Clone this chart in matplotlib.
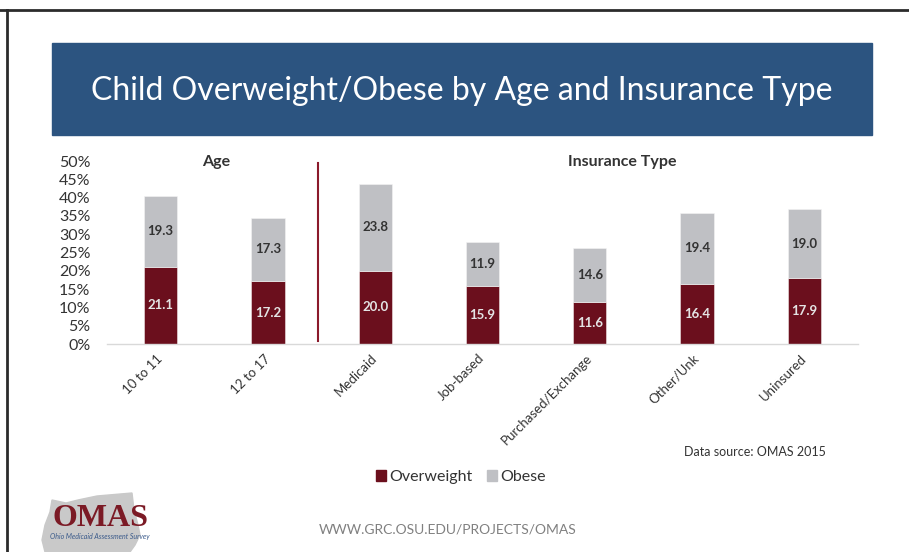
import matplotlib
matplotlib.use("Agg")
import matplotlib.pyplot as plt
from matplotlib.patches import Rectangle, Polygon
from matplotlib.lines import Line2D
from matplotlib.transforms import Affine2D
import numpy as np

categories = ["10 to 11", "12 to 17", "Medicaid", "Job-based",
              "Purchased/Exchange", "Other/Unk", "Uninsured"]
overweight = [21.1, 17.2, 20.0, 15.9, 11.6, 16.4, 17.9]
obese = [19.3, 17.3, 23.8, 11.9, 14.6, 19.4, 19.0]
yticks = [0, 5, 10, 15, 20, 25, 30, 35, 40, 45, 50]

c_over = "#6b0f1d"
c_obese = "#bfc0c4"
c_text = "#333333"

plt.rcParams["font.family"] = ["Lato", "DejaVu Sans"]

W, H = 909, 552
fig = plt.figure(figsize=(W / 100, H / 100), dpi=100)
# pixel coordinates of the slide (y down)
px = Affine2D().scale(1 / W, -1 / H).translate(0, 1) + fig.transFigure

# slide frame
fig.add_artist(Line2D([0, W], [10, 10], color="#2b2b2b", lw=2, transform=px))
fig.add_artist(Line2D([6.5, 6.5], [10, H], color="#2b2b2b", lw=2, transform=px))

# title banner
fig.add_artist(Rectangle((52, 43), 820, 92, color="#2c5480", transform=px))
fig.text(462, 91, "Child Overweight/Obese by Age and Insurance Type",
         transform=px, color="white", fontsize=23, ha="center", va="center")

ax = fig.add_axes([107 / W, 1 - 344 / H, 751 / W, 183 / H])
x = np.arange(len(categories))
bw = 0.31
ax.bar(x, overweight, bw, color=c_over, edgecolor="#f0e8e8", linewidth=0.4, label="Overweight")
ax.bar(x, obese, bw, bottom=overweight, color=c_obese, edgecolor="#f4f4f4",
       linewidth=0.4, label="Obese")

for i in range(len(categories)):
    ax.text(x[i], overweight[i] / 2, f"{overweight[i]:.1f}", ha="center", va="center",
            color="#e4e4e4", fontsize=9.5, fontweight="bold")
    ax.text(x[i], overweight[i] + obese[i] / 2, f"{obese[i]:.1f}", ha="center", va="center",
            color=c_text, fontsize=9.5, fontweight="bold")

ax.set_xlim(-0.5, len(categories) - 0.5)
ax.set_ylim(0, 50)
ax.set_yticks(yticks)
ax.set_yticklabels([f"{v}%" for v in yticks], fontsize=11.5, color=c_text)
ax.set_xticks(x)
ax.set_xticklabels(categories, rotation=45, ha="right", va="center",
                   rotation_mode="anchor", fontsize=9.5, color=c_text)
ax.tick_params(axis="y", length=0, pad=12)
ax.tick_params(axis="x", length=0, pad=9)
for s in ["top", "right", "left"]:
    ax.spines[s].set_visible(False)
ax.spines["bottom"].set_color("#d9d9d9")
ax.spines["bottom"].set_linewidth(1)

# group divider and headers
ax.plot([1.47, 1.47], [0.8, 49.5], color="#8b1a2b", lw=1.5, clip_on=False)
ax.text(0.52, 49.7, "Age", ha="center", va="center", fontsize=11.5,
        fontweight="bold", color=c_text, clip_on=False)
ax.text(4.3, 49.7, "Insurance Type", ha="center", va="center", fontsize=11.5,
        fontweight="bold", color=c_text, clip_on=False)

fig.text(826, 452, "Data source: OMAS 2015", transform=px, ha="right", va="center",
         fontsize=9, color=c_text)

handles = [Rectangle((0, 0), 1, 1, color=c_over), Rectangle((0, 0), 1, 1, color=c_obese)]
fig.legend(handles, ["Overweight", "Obese"], loc="center", bbox_to_anchor=(461 / W, 1 - 477 / H),
           ncol=2, frameon=False, fontsize=11.5, handlelength=0.65, handleheight=0.65,
           handletextpad=0.2, columnspacing=0.9, labelcolor=c_text)

# footer
fig.text(448, 530, "WWW.GRC.OSU.EDU/PROJECTS/OMAS", transform=px, ha="center",
         va="center", fontsize=10, color="#808080")

# logo
ohio = [(52, 500), (66, 503), (78, 500), (97, 496), (132, 493), (134, 510), (138, 525),
        (140, 535), (135, 545), (130, 552), (45, 552), (42, 540), (45, 525), (50, 512)]
fig.add_artist(Polygon(ohio, closed=True, color="#c9c9c9", transform=px))
fig.text(100, 518, "OMAS", transform=px, ha="center", va="center", fontsize=23,
         fontweight="bold", color="#7b1a25", family="Liberation Serif")
fig.text(100, 537, "Ohio Medicaid Assessment Survey", transform=px, ha="center",
         va="center", fontsize=5, style="italic", color="#3a5a8a")

fig.savefig("out.png", dpi=100)
